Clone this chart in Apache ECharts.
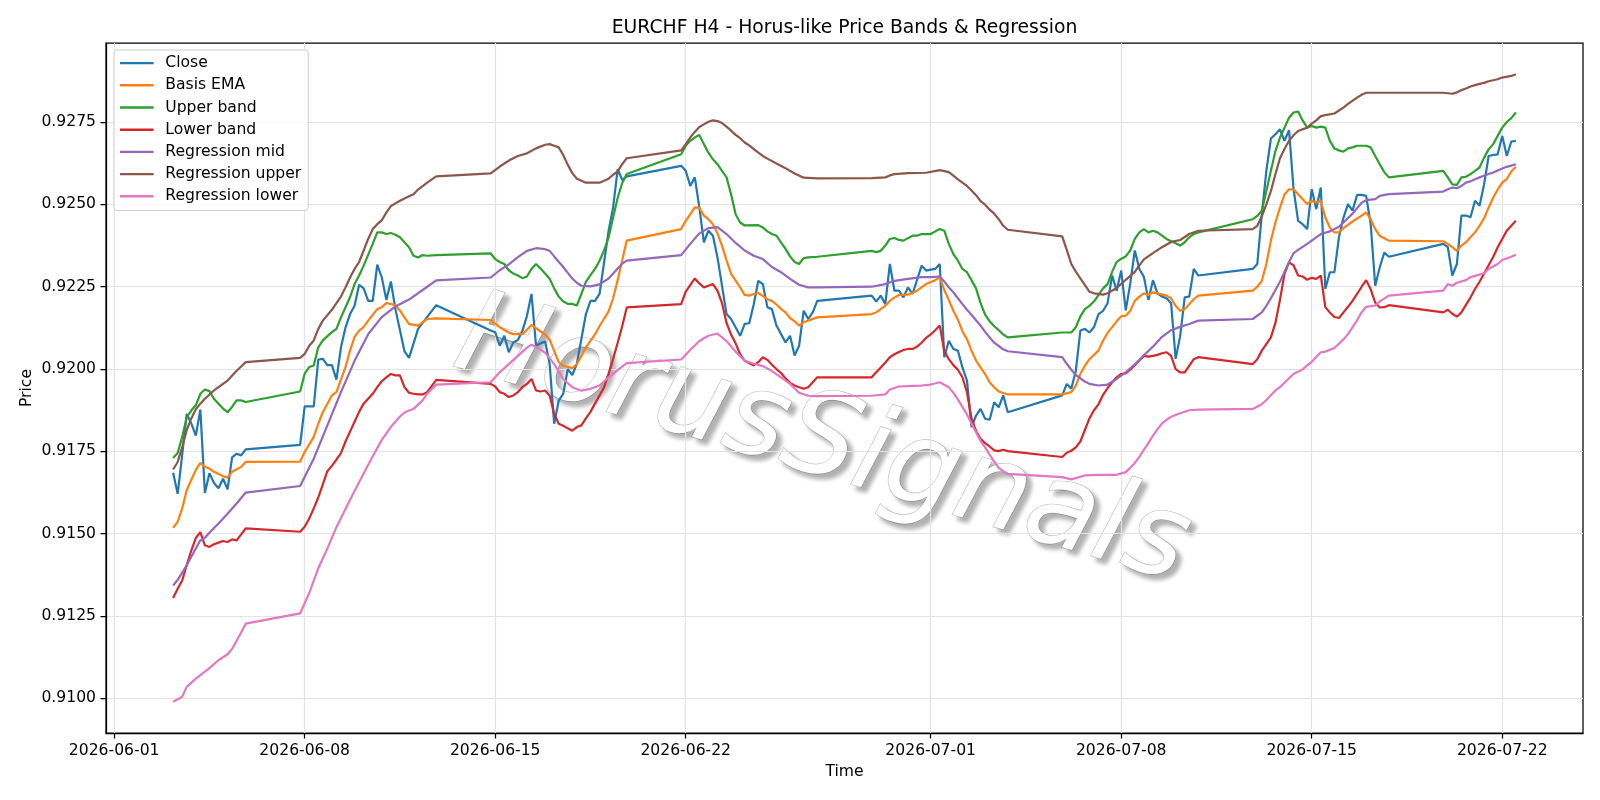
<!DOCTYPE html>
<html>
<head>
<meta charset="utf-8">
<script src="https://cdn.jsdelivr.net/npm/echarts@6/dist/echarts.min.js"></script>
<style>
html, body { margin: 0; padding: 0; background: #fff; }
#chart { width: 1600px; height: 800px; }
</style>
</head>
<body>
<div id="chart"></div>
<script>
// H4 bars; 'MM-DD HH' (2026)
const close = [
  ['06-03 04', 0.91685], ['06-03 08', 0.91621], ['06-03 12', 0.91740], ['06-03 16', 0.91864], ['06-03 20', 0.91835],
  ['06-04 00', 0.91798], ['06-04 04', 0.91877], ['06-04 08', 0.91624], ['06-04 12', 0.91684], ['06-04 16', 0.91654],
  ['06-04 20', 0.91638], ['06-05 00', 0.91667], ['06-05 04', 0.91635], ['06-05 08', 0.91732], ['06-05 12', 0.91743],
  ['06-05 16', 0.91738], ['06-05 20', 0.91756],
  ['06-07 20', 0.91770], ['06-08 00', 0.91887], ['06-08 08', 0.91887], ['06-08 12', 0.92029], ['06-08 16', 0.92031],
  ['06-08 20', 0.92012], ['06-09 00', 0.92012], ['06-09 04', 0.91968], ['06-09 08', 0.92066], ['06-09 12', 0.92126],
  ['06-09 16', 0.92167], ['06-09 20', 0.92192], ['06-10 00', 0.92256], ['06-10 04', 0.92245], ['06-10 08', 0.92207],
  ['06-10 12', 0.92207], ['06-10 16', 0.92317], ['06-10 20', 0.92278], ['06-11 00', 0.92210], ['06-11 04', 0.92266],
  ['06-11 08', 0.92182], ['06-11 16', 0.92054], ['06-11 20', 0.92034], ['06-12 04', 0.92122], ['06-12 20', 0.92194],
  ['06-14 20', 0.92117], ['06-15 00', 0.92112], ['06-15 04', 0.92071], ['06-15 08', 0.92101], ['06-15 12', 0.92051],
  ['06-15 16', 0.92081], ['06-15 20', 0.92088], ['06-16 00', 0.92116], ['06-16 04', 0.92162], ['06-16 08', 0.92228],
  ['06-16 12', 0.92071], ['06-16 16', 0.92078], ['06-16 20', 0.92084], ['06-17 00', 0.92016], ['06-17 04', 0.91834],
  ['06-17 08', 0.91904], ['06-17 12', 0.91925], ['06-17 16', 0.92000], ['06-17 20', 0.91982], ['06-18 00', 0.92016],
  ['06-18 08', 0.92167], ['06-18 12', 0.92207], ['06-18 16', 0.92207], ['06-18 20', 0.92228], ['06-19 04', 0.92420],
  ['06-19 08', 0.92491], ['06-19 12', 0.92607], ['06-19 16', 0.92574], ['06-19 20', 0.92585],
  ['06-21 20', 0.92617], ['06-22 00', 0.92602], ['06-22 04', 0.92556], ['06-22 08', 0.92582], ['06-22 12', 0.92491],
  ['06-22 16', 0.92385], ['06-22 20', 0.92420], ['06-23 00', 0.92405], ['06-23 04', 0.92339], ['06-23 12', 0.92167],
  ['06-23 16', 0.92152], ['06-24 00', 0.92101], ['06-24 04', 0.92137], ['06-24 08', 0.92139], ['06-24 12', 0.92197],
  ['06-24 16', 0.92268], ['06-24 20', 0.92258], ['06-25 00', 0.92188], ['06-25 04', 0.92182], ['06-25 08', 0.92132],
  ['06-25 16', 0.92081], ['06-25 20', 0.92101], ['06-26 00', 0.92041], ['06-26 04', 0.92071], ['06-26 08', 0.92177],
  ['06-26 12', 0.92152], ['06-26 16', 0.92172], ['06-26 20', 0.92207],
  ['06-28 20', 0.92223], ['06-29 00', 0.92205], ['06-29 04', 0.92223], ['06-29 08', 0.92197], ['06-29 12', 0.92319],
  ['06-29 16', 0.92238], ['06-29 20', 0.92238], ['06-30 00', 0.92218], ['06-30 04', 0.92248], ['06-30 08', 0.92228],
  ['06-30 16', 0.92314], ['06-30 20', 0.92299], ['07-01 00', 0.92302], ['07-01 04', 0.92304], ['07-01 08', 0.92319],
  ['07-01 12', 0.92036], ['07-01 16', 0.92086], ['07-01 20', 0.92061], ['07-02 00', 0.92056], ['07-02 04', 0.92005],
  ['07-02 08', 0.91965], ['07-02 12', 0.91824], ['07-02 16', 0.91859], ['07-02 20', 0.91879], ['07-03 00', 0.91849],
  ['07-03 04', 0.91846], ['07-03 08', 0.91899], ['07-03 12', 0.91884], ['07-03 16', 0.91920], ['07-03 20', 0.91869],
  ['07-05 20', 0.91920], ['07-06 00', 0.91955], ['07-06 04', 0.91940], ['07-06 08', 0.91995], ['07-06 12', 0.92117],
  ['07-06 16', 0.92122], ['07-06 20', 0.92111], ['07-07 00', 0.92127], ['07-07 04', 0.92167], ['07-07 08', 0.92177],
  ['07-07 12', 0.92200], ['07-07 16', 0.92284], ['07-07 20', 0.92238], ['07-08 00', 0.92299], ['07-08 04', 0.92178],
  ['07-08 08', 0.92260], ['07-08 12', 0.92360], ['07-08 16', 0.92304], ['07-08 20', 0.92280], ['07-09 00', 0.92210],
  ['07-09 04', 0.92270], ['07-09 08', 0.92230], ['07-09 12', 0.92220], ['07-09 16', 0.92215], ['07-09 20', 0.92200],
  ['07-10 00', 0.92031], ['07-10 04', 0.92100], ['07-10 08', 0.92218], ['07-10 12', 0.92220], ['07-10 16', 0.92304],
  ['07-10 20', 0.92284],
  ['07-12 20', 0.92304], ['07-13 00', 0.92319], ['07-13 04', 0.92470], ['07-13 08', 0.92602], ['07-13 12', 0.92700],
  ['07-13 16', 0.92713], ['07-13 20', 0.92728], ['07-14 00', 0.92693], ['07-14 04', 0.92725], ['07-14 08', 0.92546],
  ['07-14 12', 0.92450], ['07-14 16', 0.92440], ['07-14 20', 0.92425], ['07-15 00', 0.92546], ['07-15 04', 0.92486],
  ['07-15 08', 0.92551], ['07-15 12', 0.92243], ['07-15 16', 0.92294], ['07-15 20', 0.92294], ['07-16 00', 0.92400],
  ['07-16 04', 0.92460], ['07-16 08', 0.92501], ['07-16 12', 0.92481], ['07-16 16', 0.92529], ['07-16 20', 0.92529],
  ['07-17 00', 0.92526], ['07-17 04', 0.92440], ['07-17 08', 0.92253], ['07-17 12', 0.92309], ['07-17 16', 0.92354],
  ['07-17 20', 0.92341],
  ['07-19 20', 0.92380], ['07-20 00', 0.92370], ['07-20 04', 0.92284], ['07-20 08', 0.92319], ['07-20 12', 0.92466],
  ['07-20 16', 0.92466], ['07-20 20', 0.92461], ['07-21 00', 0.92511], ['07-21 04', 0.92496], ['07-21 08', 0.92561],
  ['07-21 12', 0.92647], ['07-21 16', 0.92650], ['07-21 20', 0.92652], ['07-22 00', 0.92708], ['07-22 04', 0.92647],
  ['07-22 08', 0.92691], ['07-22 12', 0.92693]
];

const basisEma = [
  ['06-03 04', 0.91518], ['06-03 08', 0.91536], ['06-03 12', 0.91577], ['06-03 16', 0.91632], ['06-03 20', 0.91663],
  ['06-04 00', 0.91693], ['06-04 04', 0.91715], ['06-04 08', 0.91703], ['06-04 12', 0.91698], ['06-04 16', 0.91688],
  ['06-05 00', 0.91675], ['06-05 04', 0.91670], ['06-05 08', 0.91688], ['06-05 16', 0.91703], ['06-05 20', 0.91718],
  ['06-07 20', 0.91719], ['06-08 00', 0.91748], ['06-08 08', 0.91794], ['06-08 12', 0.91834], ['06-08 16', 0.91869],
  ['06-09 00', 0.91920], ['06-09 04', 0.91930], ['06-09 12', 0.92006], ['06-09 16', 0.92056], ['06-09 20', 0.92097],
  ['06-10 00', 0.92117], ['06-10 04', 0.92127], ['06-10 08', 0.92147], ['06-10 16', 0.92182], ['06-10 20', 0.92188],
  ['06-11 00', 0.92200], ['06-11 04', 0.92198], ['06-11 08', 0.92193], ['06-11 12', 0.92178], ['06-11 16', 0.92157],
  ['06-11 20', 0.92137], ['06-12 04', 0.92132], ['06-12 08', 0.92142], ['06-12 12', 0.92152], ['06-12 20', 0.92154],
  ['06-14 20', 0.92149], ['06-15 04', 0.92127], ['06-15 12', 0.92111], ['06-15 16', 0.92106], ['06-16 00', 0.92106],
  ['06-16 04', 0.92119], ['06-16 08', 0.92134], ['06-16 12', 0.92124], ['06-16 20', 0.92105], ['06-17 00', 0.92090],
  ['06-17 04', 0.92055], ['06-17 08', 0.92021], ['06-17 12', 0.92010], ['06-17 20', 0.92003], ['06-18 00', 0.92015],
  ['06-18 04', 0.92040], ['06-18 08', 0.92066], ['06-18 16', 0.92105], ['06-18 20', 0.92130], ['06-19 04', 0.92175],
  ['06-19 08', 0.92215], ['06-19 12', 0.92270], ['06-19 16', 0.92330], ['06-19 20', 0.92390],
  ['06-21 20', 0.92425], ['06-22 00', 0.92450], ['06-22 04', 0.92470], ['06-22 08', 0.92491], ['06-22 12', 0.92490],
  ['06-22 16', 0.92466], ['06-22 20', 0.92455], ['06-23 00', 0.92440], ['06-23 04', 0.92412], ['06-23 08', 0.92375],
  ['06-23 12', 0.92330], ['06-23 16', 0.92290], ['06-24 00', 0.92248], ['06-24 04', 0.92225], ['06-24 08', 0.92223],
  ['06-24 12', 0.92228], ['06-24 16', 0.92231], ['06-24 20', 0.92222], ['06-25 00', 0.92212], ['06-25 04', 0.92207],
  ['06-25 08', 0.92196], ['06-25 12', 0.92183], ['06-25 16', 0.92172], ['06-25 20', 0.92155], ['06-26 00', 0.92145],
  ['06-26 04', 0.92132], ['06-26 08', 0.92142], ['06-26 12', 0.92147], ['06-26 20', 0.92157],
  ['06-28 20', 0.92167], ['06-29 00', 0.92172], ['06-29 04', 0.92182], ['06-29 08', 0.92192], ['06-29 12', 0.92207],
  ['06-29 16', 0.92217], ['06-29 20', 0.92225], ['06-30 04', 0.92226], ['06-30 12', 0.92238], ['06-30 16', 0.92248],
  ['06-30 20', 0.92258], ['07-01 04', 0.92270], ['07-01 08', 0.92279], ['07-01 12', 0.92240], ['07-01 16', 0.92210],
  ['07-01 20', 0.92177], ['07-02 00', 0.92150], ['07-02 04', 0.92115], ['07-02 08', 0.92091], ['07-02 12', 0.92056],
  ['07-02 16', 0.92026], ['07-02 20', 0.92005], ['07-03 00', 0.91985], ['07-03 04', 0.91960], ['07-03 08', 0.91945],
  ['07-03 12', 0.91932], ['07-03 20', 0.91923],
  ['07-05 20', 0.91923], ['07-06 04', 0.91930], ['07-06 08', 0.91950], ['07-06 12', 0.91985], ['07-06 16', 0.92010],
  ['07-06 20', 0.92030], ['07-07 04', 0.92056], ['07-07 08', 0.92086], ['07-07 12', 0.92110], ['07-07 20', 0.92145],
  ['07-08 00', 0.92160], ['07-08 04', 0.92162], ['07-08 08', 0.92177], ['07-08 12', 0.92207], ['07-08 16', 0.92220],
  ['07-08 20', 0.92230], ['07-09 00', 0.92225], ['07-09 04', 0.92233], ['07-09 08', 0.92230], ['07-09 16', 0.92223],
  ['07-09 20', 0.92215], ['07-10 00', 0.92192], ['07-10 04', 0.92177], ['07-10 08', 0.92182], ['07-10 12', 0.92197],
  ['07-10 16', 0.92212], ['07-10 20', 0.92223],
  ['07-12 20', 0.92238], ['07-13 00', 0.92250], ['07-13 04', 0.92268], ['07-13 08', 0.92319], ['07-13 12', 0.92390],
  ['07-13 16', 0.92445], ['07-13 20', 0.92490], ['07-14 00', 0.92530], ['07-14 04', 0.92546], ['07-14 08', 0.92546],
  ['07-14 12', 0.92531], ['07-14 20', 0.92501], ['07-15 00', 0.92511], ['07-15 04', 0.92506], ['07-15 08', 0.92511],
  ['07-15 12', 0.92460], ['07-15 16', 0.92430], ['07-15 20', 0.92415], ['07-16 00', 0.92415], ['07-16 04', 0.92428],
  ['07-16 12', 0.92448], ['07-16 20', 0.92466], ['07-17 00', 0.92476], ['07-17 04', 0.92455], ['07-17 08', 0.92425],
  ['07-17 12', 0.92405], ['07-17 20', 0.92390],
  ['07-19 20', 0.92388], ['07-20 00', 0.92380], ['07-20 04', 0.92370], ['07-20 08', 0.92359], ['07-20 12', 0.92375],
  ['07-20 16', 0.92385], ['07-20 20', 0.92400], ['07-21 00', 0.92415], ['07-21 04', 0.92435], ['07-21 08', 0.92458],
  ['07-21 12', 0.92490], ['07-21 16', 0.92520], ['07-21 20', 0.92545], ['07-22 00', 0.92566], ['07-22 04', 0.92577],
  ['07-22 08', 0.92600], ['07-22 12', 0.92614]
];

const upperBand = [
  ['06-03 04', 0.91730], ['06-03 08', 0.91745], ['06-03 12', 0.91794], ['06-03 16', 0.91854], ['06-03 20', 0.91874],
  ['06-04 00', 0.91890], ['06-04 04', 0.91925], ['06-04 08', 0.91938], ['06-04 12', 0.91933], ['06-04 16', 0.91910],
  ['06-04 20', 0.91895], ['06-05 00', 0.91880], ['06-05 04', 0.91869], ['06-05 08', 0.91885], ['06-05 12', 0.91905],
  ['06-05 16', 0.91905], ['06-05 20', 0.91900],
  ['06-07 20', 0.91932], ['06-08 00', 0.91986], ['06-08 04', 0.92006], ['06-08 08', 0.92011], ['06-08 12', 0.92066],
  ['06-08 16', 0.92087], ['06-09 00', 0.92112], ['06-09 04', 0.92122], ['06-09 08', 0.92157], ['06-09 16', 0.92218],
  ['06-09 20', 0.92258], ['06-10 00', 0.92284], ['06-10 04', 0.92314], ['06-10 12', 0.92380], ['06-10 16', 0.92415],
  ['06-10 20', 0.92415], ['06-11 00', 0.92410], ['06-11 04', 0.92413], ['06-11 08', 0.92408], ['06-11 12', 0.92400],
  ['06-11 20', 0.92370], ['06-12 00', 0.92344], ['06-12 04', 0.92339], ['06-12 08', 0.92346], ['06-12 12', 0.92344],
  ['06-12 20', 0.92346],
  ['06-14 20', 0.92351], ['06-15 00', 0.92334], ['06-15 04', 0.92325], ['06-15 08', 0.92319], ['06-15 12', 0.92300],
  ['06-15 16', 0.92290], ['06-15 20', 0.92284], ['06-16 00', 0.92276], ['06-16 04', 0.92281], ['06-16 08', 0.92304],
  ['06-16 12', 0.92319], ['06-16 16', 0.92305], ['06-16 20', 0.92290], ['06-17 00', 0.92274], ['06-17 04', 0.92245],
  ['06-17 08', 0.92220], ['06-17 12', 0.92205], ['06-17 16', 0.92198], ['06-17 20', 0.92198], ['06-18 00', 0.92193],
  ['06-18 04', 0.92228], ['06-18 08', 0.92265], ['06-18 12', 0.92285], ['06-18 16', 0.92304], ['06-18 20', 0.92329],
  ['06-19 00', 0.92360], ['06-19 04', 0.92400], ['06-19 08', 0.92460], ['06-19 12', 0.92520], ['06-19 16', 0.92565],
  ['06-19 20', 0.92592],
  ['06-21 20', 0.92652], ['06-22 00', 0.92678], ['06-22 04', 0.92693], ['06-22 08', 0.92703], ['06-22 12', 0.92711],
  ['06-22 16', 0.92683], ['06-22 20', 0.92657], ['06-23 00', 0.92637], ['06-23 04', 0.92622], ['06-23 08', 0.92602],
  ['06-23 12', 0.92582], ['06-23 16', 0.92531], ['06-23 20', 0.92470], ['06-24 00', 0.92445], ['06-24 04', 0.92436],
  ['06-24 16', 0.92437], ['06-24 20', 0.92430], ['06-25 00', 0.92418], ['06-25 04', 0.92410], ['06-25 08', 0.92405],
  ['06-25 12', 0.92385], ['06-25 16', 0.92365], ['06-25 20', 0.92342], ['06-26 00', 0.92325], ['06-26 04', 0.92319],
  ['06-26 08', 0.92337], ['06-26 12', 0.92339], ['06-26 20', 0.92341],
  ['06-28 20', 0.92359], ['06-29 00', 0.92355], ['06-29 04', 0.92359], ['06-29 08', 0.92375], ['06-29 12', 0.92395],
  ['06-29 16', 0.92398], ['06-29 20', 0.92392], ['06-30 00', 0.92390], ['06-30 08', 0.92405], ['06-30 12', 0.92405],
  ['06-30 16', 0.92410], ['07-01 00', 0.92410], ['07-01 04', 0.92418], ['07-01 08', 0.92425], ['07-01 12', 0.92420],
  ['07-01 16', 0.92380], ['07-01 20', 0.92349], ['07-02 00', 0.92329], ['07-02 04', 0.92304], ['07-02 08', 0.92294],
  ['07-02 12', 0.92270], ['07-02 16', 0.92245], ['07-02 20', 0.92200], ['07-03 00', 0.92165], ['07-03 04', 0.92145],
  ['07-03 08', 0.92130], ['07-03 12', 0.92118], ['07-03 16', 0.92105], ['07-03 20', 0.92096],
  ['07-05 20', 0.92111], ['07-06 04', 0.92111], ['07-06 08', 0.92127], ['07-06 12', 0.92160], ['07-06 16', 0.92182],
  ['07-06 20', 0.92192], ['07-07 00', 0.92205], ['07-07 04', 0.92225], ['07-07 08', 0.92245], ['07-07 12', 0.92258],
  ['07-07 16', 0.92295], ['07-07 20', 0.92325], ['07-08 00', 0.92335], ['07-08 04', 0.92342], ['07-08 08', 0.92360],
  ['07-08 12', 0.92395], ['07-08 16', 0.92415], ['07-08 20', 0.92425], ['07-09 00', 0.92415], ['07-09 04', 0.92420],
  ['07-09 08', 0.92415], ['07-09 12', 0.92405], ['07-09 16', 0.92395], ['07-09 20', 0.92388], ['07-10 00', 0.92382],
  ['07-10 04', 0.92375], ['07-10 08', 0.92385], ['07-10 12', 0.92400], ['07-10 16', 0.92410], ['07-10 20', 0.92415],
  ['07-12 20', 0.92455], ['07-13 00', 0.92465], ['07-13 04', 0.92481], ['07-13 08', 0.92541], ['07-13 12', 0.92602],
  ['07-13 16', 0.92662], ['07-13 20', 0.92703], ['07-14 00', 0.92733], ['07-14 04', 0.92763], ['07-14 08', 0.92779],
  ['07-14 12', 0.92782], ['07-14 16', 0.92755], ['07-14 20', 0.92733], ['07-15 00', 0.92738], ['07-15 04', 0.92733],
  ['07-15 08', 0.92736], ['07-15 12', 0.92733], ['07-15 16', 0.92693], ['07-15 20', 0.92670], ['07-16 00', 0.92664],
  ['07-16 04', 0.92660], ['07-16 08', 0.92670], ['07-16 12', 0.92673], ['07-16 16', 0.92678], ['07-17 00', 0.92678],
  ['07-17 04', 0.92673], ['07-17 08', 0.92647], ['07-17 12', 0.92622], ['07-17 16', 0.92598], ['07-17 20', 0.92582],
  ['07-19 20', 0.92602], ['07-20 00', 0.92582], ['07-20 04', 0.92561], ['07-20 08', 0.92559], ['07-20 12', 0.92582],
  ['07-20 16', 0.92584], ['07-20 20', 0.92592], ['07-21 00', 0.92602], ['07-21 04', 0.92612], ['07-21 08', 0.92642],
  ['07-21 12', 0.92667], ['07-21 16', 0.92683], ['07-21 20', 0.92708], ['07-22 00', 0.92733], ['07-22 04', 0.92750],
  ['07-22 08', 0.92762], ['07-22 12', 0.92779]
];

const lowerBand = [
  ['06-03 04', 0.91305], ['06-03 08', 0.91333], ['06-03 12', 0.91358], ['06-03 16', 0.91405], ['06-03 20', 0.91449],
  ['06-04 00', 0.91487], ['06-04 04', 0.91505], ['06-04 08', 0.91465], ['06-04 12', 0.91460], ['06-04 16', 0.91468],
  ['06-04 20', 0.91473], ['06-05 00', 0.91478], ['06-05 04', 0.91475], ['06-05 08', 0.91483], ['06-05 12', 0.91480],
  ['06-05 16', 0.91498], ['06-05 20', 0.91516],
  ['06-07 20', 0.91506], ['06-08 00', 0.91521], ['06-08 04', 0.91546], ['06-08 08', 0.91577], ['06-08 12', 0.91610],
  ['06-08 16', 0.91650], ['06-08 20', 0.91690], ['06-09 00', 0.91706], ['06-09 04', 0.91725], ['06-09 08', 0.91745],
  ['06-09 12', 0.91780], ['06-09 16', 0.91810], ['06-09 20', 0.91840], ['06-10 00', 0.91870], ['06-10 04', 0.91895],
  ['06-10 08', 0.91910], ['06-10 12', 0.91925], ['06-10 16', 0.91945], ['06-10 20', 0.91963], ['06-11 00', 0.91975],
  ['06-11 04', 0.91985], ['06-11 08', 0.91981], ['06-11 12', 0.91981], ['06-11 16', 0.91945], ['06-11 20', 0.91928],
  ['06-12 00', 0.91925], ['06-12 04', 0.91923], ['06-12 08', 0.91923], ['06-12 12', 0.91930], ['06-12 20', 0.91967],
  ['06-14 20', 0.91955], ['06-15 00', 0.91947], ['06-15 04', 0.91930], ['06-15 08', 0.91925], ['06-15 12', 0.91915],
  ['06-15 16', 0.91920], ['06-15 20', 0.91930], ['06-16 00', 0.91945], ['06-16 04', 0.91955], ['06-16 08', 0.91970],
  ['06-16 12', 0.91935], ['06-16 16', 0.91932], ['06-16 20', 0.91935], ['06-17 00', 0.91920], ['06-17 04', 0.91864],
  ['06-17 08', 0.91834], ['06-17 12', 0.91828], ['06-17 16', 0.91820], ['06-17 20', 0.91813], ['06-18 00', 0.91824],
  ['06-18 04', 0.91829], ['06-18 08', 0.91850], ['06-18 12', 0.91870], ['06-18 16', 0.91895], ['06-18 20', 0.91920],
  ['06-19 00', 0.91945], ['06-19 04', 0.91985], ['06-19 08', 0.92031], ['06-19 12', 0.92080], ['06-19 16', 0.92130],
  ['06-19 20', 0.92187],
  ['06-21 20', 0.92197], ['06-22 00', 0.92235], ['06-22 04', 0.92255], ['06-22 08', 0.92275], ['06-22 12', 0.92260],
  ['06-22 16', 0.92248], ['06-22 20', 0.92253], ['06-23 00', 0.92258], ['06-23 04', 0.92238], ['06-23 08', 0.92200],
  ['06-23 12', 0.92140], ['06-23 16', 0.92105], ['06-23 20', 0.92078], ['06-24 00', 0.92045], ['06-24 04', 0.92025],
  ['06-24 12', 0.92011], ['06-24 16', 0.92021], ['06-24 20', 0.92036], ['06-25 00', 0.92028], ['06-25 04', 0.92013],
  ['06-25 08', 0.92000], ['06-25 12', 0.91988], ['06-25 16', 0.91972], ['06-25 20', 0.91958], ['06-26 00', 0.91950],
  ['06-26 04', 0.91945], ['06-26 08', 0.91940], ['06-26 12', 0.91945], ['06-26 16', 0.91960], ['06-26 20', 0.91975],
  ['06-28 20', 0.91975], ['06-29 00', 0.91990], ['06-29 04', 0.92005], ['06-29 08', 0.92020], ['06-29 12', 0.92036],
  ['06-29 16', 0.92045], ['06-29 20', 0.92052], ['06-30 00', 0.92058], ['06-30 04', 0.92061], ['06-30 08', 0.92061],
  ['06-30 12', 0.92068], ['06-30 16', 0.92080], ['06-30 20', 0.92095], ['07-01 00', 0.92105], ['07-01 04', 0.92118],
  ['07-01 08', 0.92132], ['07-01 12', 0.92055], ['07-01 16', 0.92030], ['07-01 20', 0.92012], ['07-02 00', 0.91998],
  ['07-02 04', 0.91975], ['07-02 08', 0.91930], ['07-02 12', 0.91850], ['07-02 16', 0.91812], ['07-02 20', 0.91788],
  ['07-03 00', 0.91775], ['07-03 04', 0.91765], ['07-03 08', 0.91753], ['07-03 12', 0.91751], ['07-03 16', 0.91755],
  ['07-03 20', 0.91751],
  ['07-05 20', 0.91733], ['07-06 00', 0.91746], ['07-06 04', 0.91752], ['07-06 08', 0.91762], ['07-06 12', 0.91780],
  ['07-06 16', 0.91815], ['07-06 20', 0.91850], ['07-07 00', 0.91875], ['07-07 04', 0.91893], ['07-07 08', 0.91922],
  ['07-07 12', 0.91942], ['07-07 16', 0.91960], ['07-07 20', 0.91975], ['07-08 00', 0.91985], ['07-08 04', 0.91987],
  ['07-08 08', 0.91998], ['07-08 12', 0.92012], ['07-08 16', 0.92026], ['07-08 20', 0.92040], ['07-09 00', 0.92038],
  ['07-09 04', 0.92040], ['07-09 08', 0.92043], ['07-09 12', 0.92048], ['07-09 16', 0.92051], ['07-09 20', 0.92040],
  ['07-10 00', 0.92000], ['07-10 04', 0.91990], ['07-10 08', 0.91990], ['07-10 12', 0.92010], ['07-10 16', 0.92030],
  ['07-10 20', 0.92036],
  ['07-12 20', 0.92015], ['07-13 00', 0.92030], ['07-13 04', 0.92056], ['07-13 08', 0.92076], ['07-13 12', 0.92096],
  ['07-13 16', 0.92140], ['07-13 20', 0.92210], ['07-14 00', 0.92289], ['07-14 04', 0.92324], ['07-14 08', 0.92315],
  ['07-14 12', 0.92284], ['07-14 16', 0.92281], ['07-14 20', 0.92271], ['07-15 00', 0.92277], ['07-15 04', 0.92274],
  ['07-15 08', 0.92284], ['07-15 12', 0.92188], ['07-15 16', 0.92172], ['07-15 20', 0.92158], ['07-16 00', 0.92155],
  ['07-16 04', 0.92172], ['07-16 08', 0.92189], ['07-16 12', 0.92207], ['07-16 16', 0.92228], ['07-16 20', 0.92250],
  ['07-17 00', 0.92270], ['07-17 04', 0.92242], ['07-17 08', 0.92202], ['07-17 12', 0.92187], ['07-17 16', 0.92188],
  ['07-17 20', 0.92194],
  ['07-19 20', 0.92172], ['07-20 00', 0.92180], ['07-20 04', 0.92168], ['07-20 08', 0.92159], ['07-20 12', 0.92172],
  ['07-20 16', 0.92195], ['07-20 20', 0.92217], ['07-21 00', 0.92243], ['07-21 04', 0.92265], ['07-21 08', 0.92290],
  ['07-21 12', 0.92315], ['07-21 16', 0.92340], ['07-21 20', 0.92370], ['07-22 00', 0.92395], ['07-22 04', 0.92420],
  ['07-22 08', 0.92435], ['07-22 12', 0.92450]
];

const regMid = [
  ['06-03 04', 0.91343], ['06-03 08', 0.91360], ['06-03 16', 0.91404], ['06-03 20', 0.91430], ['06-04 00', 0.91455],
  ['06-04 04', 0.91480], ['06-04 08', 0.91488], ['06-04 12', 0.91503], ['06-04 20', 0.91531], ['06-05 04', 0.91561],
  ['06-05 12', 0.91592], ['06-05 20', 0.91625],
  ['06-07 20', 0.91645], ['06-08 08', 0.91728], ['06-08 20', 0.91829], ['06-09 08', 0.91930], ['06-09 20', 0.92025],
  ['06-10 08', 0.92106], ['06-10 20', 0.92158], ['06-11 08', 0.92190], ['06-11 20', 0.92211], ['06-12 08', 0.92240],
  ['06-12 20', 0.92269],
  ['06-14 20', 0.92278], ['06-15 04', 0.92300], ['06-15 12', 0.92318], ['06-15 20', 0.92340], ['06-16 04', 0.92359],
  ['06-16 12', 0.92367], ['06-16 20', 0.92364], ['06-17 00', 0.92359], ['06-17 04', 0.92342], ['06-17 08', 0.92326],
  ['06-17 12', 0.92310], ['06-17 16', 0.92292], ['06-17 20', 0.92275], ['06-18 00', 0.92262], ['06-18 04', 0.92253],
  ['06-18 12', 0.92251], ['06-18 20', 0.92257], ['06-19 04', 0.92275], ['06-19 08', 0.92290], ['06-19 12', 0.92305],
  ['06-19 16', 0.92320], ['06-19 20', 0.92329],
  ['06-21 20', 0.92346], ['06-22 04', 0.92380], ['06-22 12', 0.92412], ['06-22 20', 0.92428], ['06-23 04', 0.92431],
  ['06-23 12', 0.92410], ['06-23 20', 0.92383], ['06-24 04', 0.92360], ['06-24 12', 0.92344], ['06-24 20', 0.92334],
  ['06-25 04', 0.92310], ['06-25 12', 0.92294], ['06-25 20', 0.92274], ['06-26 04', 0.92256], ['06-26 12', 0.92248],
  ['06-26 20', 0.92248],
  ['06-28 20', 0.92250], ['06-29 08', 0.92258], ['06-29 16', 0.92268], ['06-30 04', 0.92274], ['06-30 16', 0.92279],
  ['07-01 00', 0.92279], ['07-01 08', 0.92281], ['07-01 12', 0.92266], ['07-01 16', 0.92248], ['07-01 20', 0.92233],
  ['07-02 00', 0.92215], ['07-02 04', 0.92197], ['07-02 08', 0.92180], ['07-02 12', 0.92165], ['07-02 16', 0.92148],
  ['07-02 20', 0.92132], ['07-03 00', 0.92113], ['07-03 04', 0.92096], ['07-03 08', 0.92080], ['07-03 12', 0.92070],
  ['07-03 16', 0.92060], ['07-03 20', 0.92054],
  ['07-05 20', 0.92036], ['07-06 00', 0.92016], ['07-06 04', 0.91998], ['07-06 08', 0.91982], ['07-06 16', 0.91962],
  ['07-06 20', 0.91955], ['07-07 04', 0.91950], ['07-07 12', 0.91953], ['07-07 20', 0.91970], ['07-08 04', 0.91990],
  ['07-08 12', 0.92014], ['07-08 20', 0.92042], ['07-09 04', 0.92068], ['07-09 12', 0.92098], ['07-09 20', 0.92118],
  ['07-10 04', 0.92128], ['07-10 12', 0.92137], ['07-10 20', 0.92147],
  ['07-12 20', 0.92152], ['07-13 04', 0.92172], ['07-13 08', 0.92192], ['07-13 12', 0.92215], ['07-13 16', 0.92240],
  ['07-13 20', 0.92265], ['07-14 00', 0.92295], ['07-14 04', 0.92325], ['07-14 08', 0.92352], ['07-14 12', 0.92362],
  ['07-14 20', 0.92380], ['07-15 04', 0.92400], ['07-15 08', 0.92410], ['07-15 16', 0.92418], ['07-16 00', 0.92432],
  ['07-16 04', 0.92445], ['07-16 12', 0.92472], ['07-16 20', 0.92505], ['07-17 00', 0.92513], ['07-17 08', 0.92516],
  ['07-17 12', 0.92526], ['07-17 20', 0.92531],
  ['07-19 20', 0.92539], ['07-20 00', 0.92546], ['07-20 04', 0.92551], ['07-20 08', 0.92549], ['07-20 12', 0.92556],
  ['07-20 16', 0.92566], ['07-20 20', 0.92570], ['07-21 00', 0.92576], ['07-21 04', 0.92582], ['07-21 12', 0.92592],
  ['07-21 16', 0.92597], ['07-22 00', 0.92609], ['07-22 04', 0.92614], ['07-22 12', 0.92622]
];

const regUpper = [
  ['06-03 04', 0.91695], ['06-03 08', 0.91718], ['06-03 12', 0.91763], ['06-03 16', 0.91815], ['06-03 20', 0.91850],
  ['06-04 00', 0.91878], ['06-04 04', 0.91895], ['06-04 08', 0.91910], ['06-04 16', 0.91935], ['06-05 00', 0.91955],
  ['06-05 04', 0.91965], ['06-05 12', 0.91995], ['06-05 16', 0.92008], ['06-05 20', 0.92021],
  ['06-07 20', 0.92034], ['06-08 00', 0.92046], ['06-08 04', 0.92071], ['06-08 08', 0.92087], ['06-08 12', 0.92122],
  ['06-08 16', 0.92147], ['06-09 00', 0.92180], ['06-09 04', 0.92200], ['06-09 08', 0.92220], ['06-09 12', 0.92248],
  ['06-09 16', 0.92278], ['06-09 20', 0.92304], ['06-10 00', 0.92325], ['06-10 04', 0.92360], ['06-10 08', 0.92395],
  ['06-10 12', 0.92425], ['06-10 16', 0.92440], ['06-10 20', 0.92452], ['06-11 00', 0.92475], ['06-11 04', 0.92495],
  ['06-11 08', 0.92503], ['06-11 12', 0.92511], ['06-11 20', 0.92525], ['06-12 00', 0.92531], ['06-12 04', 0.92545],
  ['06-12 12', 0.92566], ['06-12 20', 0.92585],
  ['06-14 20', 0.92594], ['06-15 04', 0.92615], ['06-15 12', 0.92633], ['06-15 20', 0.92647], ['06-16 04', 0.92655],
  ['06-16 12', 0.92670], ['06-16 20', 0.92681], ['06-17 00', 0.92683], ['06-17 04', 0.92678], ['06-17 08', 0.92673],
  ['06-17 12', 0.92650], ['06-17 16', 0.92620], ['06-17 20', 0.92595], ['06-18 00', 0.92578], ['06-18 08', 0.92566],
  ['06-18 20', 0.92566], ['06-19 04', 0.92578], ['06-19 08', 0.92590], ['06-19 12', 0.92600], ['06-19 16', 0.92622],
  ['06-19 20', 0.92640],
  ['06-21 20', 0.92664], ['06-22 00', 0.92683], ['06-22 04', 0.92703], ['06-22 08', 0.92720], ['06-22 12', 0.92735],
  ['06-22 16', 0.92743], ['06-22 20', 0.92751], ['06-23 00', 0.92755], ['06-23 04', 0.92753], ['06-23 08', 0.92747],
  ['06-23 12', 0.92736], ['06-23 16', 0.92724], ['06-23 20', 0.92711], ['06-24 00', 0.92701], ['06-24 04', 0.92688],
  ['06-24 08', 0.92679], ['06-24 12', 0.92668], ['06-24 16', 0.92657], ['06-24 20', 0.92647], ['06-25 00', 0.92639],
  ['06-25 08', 0.92624], ['06-25 16', 0.92610], ['06-26 00', 0.92594], ['06-26 08', 0.92581], ['06-26 20', 0.92579],
  ['06-28 20', 0.92580], ['06-29 08', 0.92582], ['06-29 12', 0.92588], ['06-29 16', 0.92592], ['06-30 04', 0.92595],
  ['06-30 20', 0.92596], ['07-01 08', 0.92604], ['07-01 16', 0.92598], ['07-01 20', 0.92587], ['07-02 00', 0.92576],
  ['07-02 04', 0.92566], ['07-02 08', 0.92556], ['07-02 12', 0.92542], ['07-02 16', 0.92528], ['07-02 20', 0.92510],
  ['07-03 00', 0.92499], ['07-03 04', 0.92484], ['07-03 08', 0.92472], ['07-03 12', 0.92455], ['07-03 16', 0.92435],
  ['07-03 20', 0.92423],
  ['07-05 20', 0.92403], ['07-06 00', 0.92362], ['07-06 04', 0.92319], ['07-06 08', 0.92296], ['07-06 12', 0.92275],
  ['07-06 16', 0.92255], ['07-06 20', 0.92235], ['07-07 00', 0.92230], ['07-07 08', 0.92226], ['07-07 12', 0.92230],
  ['07-07 20', 0.92246], ['07-08 04', 0.92271], ['07-08 12', 0.92295], ['07-08 16', 0.92315], ['07-08 20', 0.92333],
  ['07-09 04', 0.92352], ['07-09 12', 0.92370], ['07-09 20', 0.92386], ['07-10 04', 0.92392], ['07-10 12', 0.92410],
  ['07-10 20', 0.92420],
  ['07-12 20', 0.92425], ['07-13 00', 0.92435], ['07-13 04', 0.92464], ['07-13 08', 0.92500], ['07-13 12', 0.92540],
  ['07-13 16', 0.92592], ['07-13 20', 0.92640], ['07-14 00', 0.92668], ['07-14 04', 0.92693], ['07-14 08', 0.92710],
  ['07-14 12', 0.92723], ['07-14 20', 0.92733], ['07-15 00', 0.92745], ['07-15 04', 0.92755], ['07-15 08', 0.92768],
  ['07-15 12', 0.92771], ['07-15 20', 0.92776], ['07-16 00', 0.92785], ['07-16 04', 0.92794], ['07-16 08', 0.92805],
  ['07-16 16', 0.92824], ['07-16 20', 0.92833], ['07-17 00', 0.92839], ['07-17 20', 0.92839],
  ['07-19 20', 0.92839], ['07-20 04', 0.92836], ['07-20 08', 0.92840], ['07-20 12', 0.92847], ['07-20 16', 0.92852],
  ['07-20 20', 0.92858], ['07-21 00', 0.92862], ['07-21 04', 0.92866], ['07-21 08', 0.92869], ['07-21 12', 0.92874],
  ['07-21 20', 0.92880], ['07-22 00', 0.92885], ['07-22 08', 0.92890], ['07-22 12', 0.92895]
];

const regLower = [
  ['06-03 04', 0.90990], ['06-03 12', 0.91005], ['06-03 16', 0.91035], ['06-04 00', 0.91060], ['06-04 08', 0.91081],
  ['06-04 12', 0.91092], ['06-04 20', 0.91116], ['06-05 04', 0.91134], ['06-05 08', 0.91150], ['06-05 12', 0.91175],
  ['06-05 16', 0.91200], ['06-05 20', 0.91227],
  ['06-07 20', 0.91258], ['06-08 04', 0.91320], ['06-08 12', 0.91395], ['06-08 20', 0.91455], ['06-09 04', 0.91520],
  ['06-09 12', 0.91575], ['06-09 20', 0.91630], ['06-10 04', 0.91683], ['06-10 12', 0.91735], ['06-10 20', 0.91785],
  ['06-11 04', 0.91824], ['06-11 12', 0.91856], ['06-11 16', 0.91868], ['06-11 20', 0.91874], ['06-12 00', 0.91879],
  ['06-12 08', 0.91905], ['06-12 12', 0.91925], ['06-12 20', 0.91953],
  ['06-14 20', 0.91960], ['06-15 04', 0.91990], ['06-15 12', 0.92015], ['06-15 20', 0.92040], ['06-16 04', 0.92065],
  ['06-16 08', 0.92074], ['06-16 12', 0.92068], ['06-16 20', 0.92050], ['06-17 04', 0.92015], ['06-17 12', 0.91970],
  ['06-17 20', 0.91945], ['06-18 04', 0.91934], ['06-18 12', 0.91940], ['06-18 20', 0.91950], ['06-19 04', 0.91975],
  ['06-19 12', 0.91997], ['06-19 20', 0.92018],
  ['06-21 20', 0.92029], ['06-22 04', 0.92058], ['06-22 12', 0.92085], ['06-22 20', 0.92101], ['06-23 04', 0.92108],
  ['06-23 12', 0.92085], ['06-23 20', 0.92053], ['06-24 04', 0.92025], ['06-24 12', 0.92016], ['06-24 20', 0.92009],
  ['06-25 04', 0.91994], ['06-25 12', 0.91975], ['06-25 20', 0.91955], ['06-26 04', 0.91928], ['06-26 12', 0.91919],
  ['06-26 20', 0.91918],
  ['06-28 20', 0.91919], ['06-29 08', 0.91923], ['06-29 12', 0.91938], ['06-29 20', 0.91947], ['06-30 08', 0.91949],
  ['06-30 16', 0.91950], ['07-01 00', 0.91953], ['07-01 08', 0.91960], ['07-01 16', 0.91945], ['07-01 20', 0.91928],
  ['07-02 00', 0.91908], ['07-02 04', 0.91885], ['07-02 08', 0.91862], ['07-02 12', 0.91835], ['07-02 16', 0.91808],
  ['07-02 20', 0.91782], ['07-03 00', 0.91762], ['07-03 04', 0.91740], ['07-03 08', 0.91720], ['07-03 12', 0.91700],
  ['07-03 16', 0.91690], ['07-03 20', 0.91682],
  ['07-05 20', 0.91672], ['07-06 04', 0.91665], ['07-06 16', 0.91677], ['07-07 04', 0.91679], ['07-07 20', 0.91679],
  ['07-08 04', 0.91687], ['07-08 08', 0.91700], ['07-08 12', 0.91715], ['07-08 16', 0.91733], ['07-08 20', 0.91755],
  ['07-09 00', 0.91775], ['07-09 04', 0.91798], ['07-09 08', 0.91817], ['07-09 12', 0.91835], ['07-09 16', 0.91846],
  ['07-09 20', 0.91855], ['07-10 04', 0.91866], ['07-10 12', 0.91875], ['07-10 20', 0.91877],
  ['07-12 20', 0.91879], ['07-13 04', 0.91893], ['07-13 08', 0.91906], ['07-13 16', 0.91935], ['07-13 20', 0.91945],
  ['07-14 04', 0.91972], ['07-14 08', 0.91985], ['07-14 16', 0.91999], ['07-14 20', 0.92011], ['07-15 00', 0.92022],
  ['07-15 08', 0.92051], ['07-15 12', 0.92053], ['07-15 20', 0.92064], ['07-16 04', 0.92090], ['07-16 08', 0.92106],
  ['07-16 16', 0.92148], ['07-16 20', 0.92172], ['07-17 00', 0.92189], ['07-17 08', 0.92193], ['07-17 12', 0.92205],
  ['07-17 20', 0.92223],
  ['07-19 20', 0.92238], ['07-20 00', 0.92258], ['07-20 04', 0.92253], ['07-20 08', 0.92262], ['07-20 16', 0.92270],
  ['07-20 20', 0.92279], ['07-21 00', 0.92283], ['07-21 08', 0.92291], ['07-21 12', 0.92304], ['07-21 20', 0.92319],
  ['07-22 00', 0.92331], ['07-22 08', 0.92341], ['07-22 12', 0.92347]
];

const dateTicks = ['06-01', '06-08', '06-15', '06-22', '07-01', '07-08', '07-15', '07-22'];
const priceTicks = [0.9100, 0.9125, 0.9150, 0.9175, 0.9200, 0.9225, 0.9250, 0.9275];

const seriesNames = ['Close', 'Basis EMA', 'Upper band', 'Lower band', 'Regression mid', 'Regression upper', 'Regression lower'];
const seriesColors = ['#1f77b4', '#ff7f0e', '#2ca02c', '#d62728', '#9467bd', '#8c564b', '#e377c2'];

const TITLE = 'EURCHF H4 - Horus-like Price Bands & Regression';
const FONT = '"DejaVu Sans", Verdana, sans-serif';
const DAY = 86400000;

// 'MM-DD HH' -> UTC ms
const ts = (s) => {
    const [md, h] = s.split(' ');
    const [m, d] = md.split('-').map(Number);
    return Date.UTC(2026, m - 1, d, h ? +h : 0);
};

const fmtDate = (v) => {
    const d = new Date(v);
    const p = (n) => String(n).padStart(2, '0');
    return d.getUTCFullYear() + '-' + p(d.getUTCMonth() + 1) + '-' + p(d.getUTCDate());
};

const toPoints = (rows) => rows.map(([t, v]) => [ts(t), v]);

// title is centred over the plot area, not the page
const measureCtx = document.createElement('canvas').getContext('2d');
measureCtx.font = '18.8px "DejaVu Sans"';
const titleWidth = measureCtx.measureText(TITLE).width;
const plotCenter = (106 + 1583) / 2;

const allData = [close, basisEma, upperBand, lowerBand, regMid, regUpper, regLower];

const chart = echarts.init(document.getElementById('chart'), null, { renderer: 'canvas' });

const axisLineStyle = { color: '#000', width: 1.25 };

chart.setOption({
    animation: false,
    backgroundColor: '#fff',
    title: {
        text: TITLE,
        left: plotCenter - titleWidth / 2,
        top: 19,
        padding: 0,
        textStyle: { fontFamily: FONT, fontSize: 18.8, fontWeight: 'normal', color: '#000' }
    },
    legend: {
        data: seriesNames,
        orient: 'vertical',
        left: 114,
        top: 50,
        icon: 'rect',
        itemWidth: 33.6,
        itemHeight: 2.4,
        itemGap: 4,
        padding: [4, 7, 5, 6],
        backgroundColor: 'rgba(255,255,255,0.8)',
        borderColor: '#cccccc',
        borderWidth: 1,
        borderRadius: 3,
        textStyle: { fontFamily: FONT, fontSize: 15.6, color: '#000', lineHeight: 18.2, padding: [0, 0, 0, 6.7] }
    },
    grid: {
        left: 106, right: 17, top: 43, bottom: 67,
        show: true, borderColor: '#000', borderWidth: 1.25, backgroundColor: 'transparent'
    },
    xAxis: {
        type: 'value',
        min: ts('06-01 00') - 0.3 * DAY,
        max: ts('06-01 00') + 53.967 * DAY,
        name: 'Time',
        nameLocation: 'middle',
        nameGap: 30,
        nameTextStyle: { fontFamily: FONT, fontSize: 15.6, color: '#000' },
        axisLine: { show: true, lineStyle: axisLineStyle },
        axisTick: { show: true, length: 5.5, lineStyle: axisLineStyle, customValues: dateTicks.map(ts) },
        axisLabel: {
            customValues: dateTicks.map(ts),
            formatter: fmtDate,
            fontFamily: FONT, fontSize: 15.6, color: '#000', margin: 10
        },
        splitLine: { show: true, lineStyle: { color: '#e3e3e3', width: 1.2 } }
    },
    yAxis: {
        type: 'value',
        min: 0.90895,
        max: 0.92990,
        name: 'Price',
        nameLocation: 'middle',
        nameGap: 71,
        nameMoveOverlap: false,
        nameTextStyle: { fontFamily: FONT, fontSize: 15.6, color: '#000' },
        axisLine: { show: true, lineStyle: axisLineStyle },
        axisTick: { show: true, length: 5.5, lineStyle: axisLineStyle, customValues: priceTicks },
        axisLabel: {
            customValues: priceTicks,
            formatter: (v) => v.toFixed(4),
            fontFamily: FONT, fontSize: 15.6, color: '#000', margin: 10
        },
        splitLine: { show: true, lineStyle: { color: '#e3e3e3', width: 1.2 } }
    },
    // watermark sits under the lines
    graphic: {
        zlevel: 0,
        z: 0,
        elements: [{
            type: 'text',
            x: 822,
            y: 444,
            rotation: -0.29,
            zlevel: 0,
            z: 0,
            silent: true,
            style: {
                text: 'HorusSignals',
                font: 'italic 116px "DejaVu Sans"',
                fill: '#ffffff',
                stroke: '#b8b8b8',
                lineWidth: 1.2,
                align: 'center',
                verticalAlign: 'middle',
                textShadowColor: 'rgba(0,0,0,0.3)',
                textShadowBlur: 4,
                textShadowOffsetX: 5,
                textShadowOffsetY: 5
            }
        }]
    },
    series: seriesNames.map((name, i) => ({
        name: name,
        type: 'line',
        data: toPoints(allData[i]),
        symbol: 'none',
        color: seriesColors[i],
        lineStyle: { color: seriesColors[i], width: 2.2 },
        zlevel: 0,
        z: 5 + i
    }))
});
</script>
</body>
</html>
